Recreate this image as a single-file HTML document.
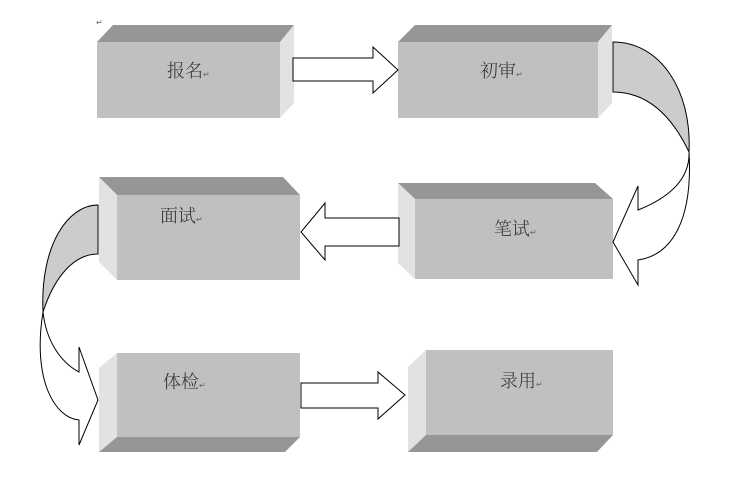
<!DOCTYPE html>
<html><head><meta charset="utf-8"><style>
html,body{margin:0;padding:0;background:#fff;}
svg{display:block;}
text{font-family:"Liberation Serif","Noto Serif CJK SC",serif;}
</style></head><body>
<svg width="734" height="492" viewBox="0 0 734 492" xmlns="http://www.w3.org/2000/svg">
<polygon points="97,42 113,25 294,25 280,42" fill="#969696"/>
<polygon points="280,42 294,25 294,103 280,118" fill="#e2e2e2"/>
<rect x="97" y="42" width="183" height="76" fill="#c0c0c0"/>
<polygon points="398,42 415,25 612,25 598,42" fill="#969696"/>
<polygon points="598,42 612,25 612,103 598,118" fill="#e2e2e2"/>
<rect x="398" y="42" width="200" height="76" fill="#c0c0c0"/>
<polygon points="99,177 283,177 300,195 117,195" fill="#969696"/>
<polygon points="99,177 117,195 117,280 99,262" fill="#e2e2e2"/>
<rect x="117" y="195" width="183" height="85" fill="#c0c0c0"/>
<polygon points="398,183 595,183 613,199 415,199" fill="#969696"/>
<polygon points="398,183 415,199 415,279 398,263" fill="#e2e2e2"/>
<rect x="415" y="199" width="198" height="80" fill="#c0c0c0"/>
<polygon points="99,368 117,353 117,437 99,452" fill="#e2e2e2"/>
<polygon points="99,452 117,437 300,437 285,452" fill="#969696"/>
<rect x="117" y="353" width="183" height="84" fill="#c0c0c0"/>
<polygon points="408,367 426,350 426,435 408,452" fill="#e2e2e2"/>
<polygon points="408,452 426,435 613,435 597,452" fill="#969696"/>
<rect x="426" y="350" width="187" height="85" fill="#c0c0c0"/>

<g fill="#fff" stroke="#000" stroke-width="1">
<polygon points="293,58 373,58 373,47 398,70 373,93 373,81 293,81"/>
<polygon points="399,218 325,218 325,203 301,232 325,260 325,246 399,246"/>
<polygon points="301,383 378,383 378,372 405,395 378,419 378,408 301,408"/>
</g>

<g stroke="#000" stroke-width="1">
<path d="M613,42 C660,42 692,90 689,152 C670,112 645,92 613,92 Z" fill="#cccccc"/>
<path d="M689,152 C693,220 672,255 638,260 L638,285 L613,242 L638,186 L638,210 C668,198 690,180 689,152 Z" fill="#fff"/>
</g>
<g stroke="#000" stroke-width="1">
<path d="M98,205 C68,205 40,245 43,312 C55,275 75,254 98,254 Z" fill="#cccccc"/>
<path d="M43,312 C32,380 55,418 79,420 L79,445 L98,400 L79,347 L79,372 C60,362 46,340 43,312 Z" fill="#fff"/>
</g>

<g font-size="18" fill="#333" font-weight="300">
<text x="167" y="77">报名<tspan font-size="8" fill="#666">↵</tspan></text>
<text x="480" y="77">初审<tspan font-size="8" fill="#666">↵</tspan></text>
<text x="160" y="222">面试<tspan font-size="8" fill="#666">↵</tspan></text>
<text x="494" y="235">笔试<tspan font-size="8" fill="#666">↵</tspan></text>
<text x="163" y="388">体检<tspan font-size="8" fill="#666">↵</tspan></text>
<text x="500" y="387">录用<tspan font-size="8" fill="#666">↵</tspan></text>
</g>
<text x="96" y="25" font-size="8" fill="#666">↵</text>
</svg>
</body></html>
